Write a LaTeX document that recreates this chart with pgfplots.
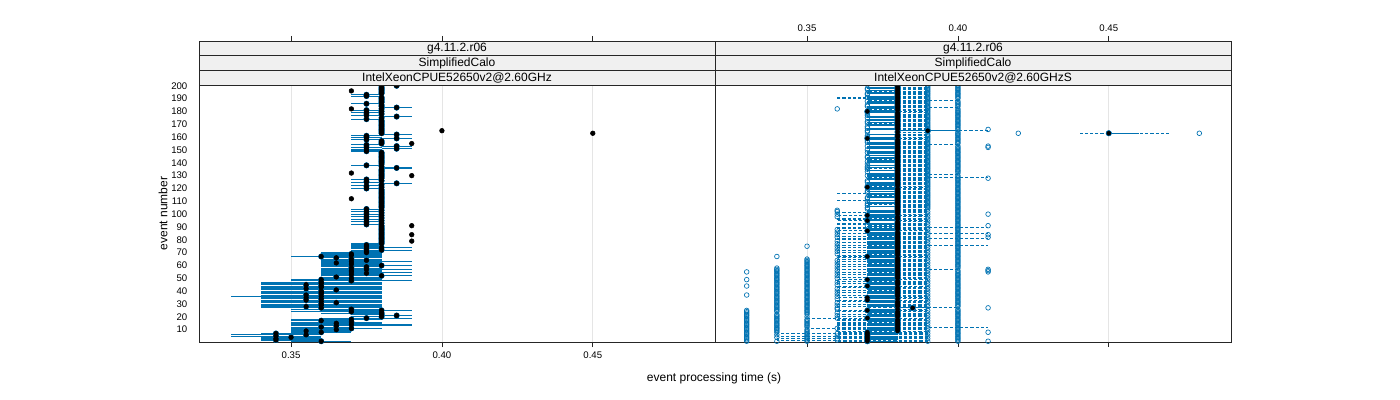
\documentclass[border=0pt]{standalone}
\usepackage{fontspec}
\setmainfont{Liberation Sans}
\usepackage{pgfplots}
\usepackage{pgfplotstable}
\pgfplotsset{compat=1.18}
\definecolor{c1}{HTML}{0072B2}
\definecolor{stripbg}{HTML}{F0F0F0}

% times in ms; e = event number
\pgfplotstableread{
e lo q1 md q3 hi
1 350 350 360 370 370
2 340 340 345 360 360
3 340 340 345 350 360
4 340 340 350 360 360
5 330 340 345 350 360
6 330 340 355 360 360
7 340 340 345 360 360
8 350 350 360 370 370
9 350 350 355 370 370
10 350 350 365 370 370
11 350 350 370 370 380
12 350 350 360 370 370
13 350 350 365 380 390
14 350 360 370 380 390
15 350 350 365 370 380
16 350 360 370 370 380
17 350 350 360 370 370
18 350 360 370 380 380
19 360 370 375 380 390
20 370 380 380 380 380
21 380 380 385 390 390
22 370 380 380 380 380
23 360 370 380 380 380
24 350 360 370 380 380
25 360 370 380 380 390
26 350 360 370 380 380
27 340 350 360 380 380
28 340 340 355 370 380
29 340 350 360 380 380
30 340 340 360 380 380
31 340 350 365 380 380
32 340 340 360 370 380
33 340 340 355 380 380
34 340 350 360 380 380
35 340 340 355 370 380
36 330 340 360 380 380
37 340 340 355 380 380
38 340 350 360 380 380
39 340 340 360 370 380
40 340 340 360 380 380
41 340 350 365 380 380
42 340 340 355 380 380
43 340 340 360 370 380
44 340 350 360 380 380
45 340 340 355 380 380
46 340 340 360 380 380
47 340 350 360 370 380
48 350 360 370 380 390
49 350 360 360 380 380
50 360 360 370 380 380
51 360 360 365 380 380
52 360 370 380 380 390
53 360 360 370 380 380
54 360 360 375 380 380
55 360 360 370 380 390
56 360 360 370 380 380
57 360 370 375 380 390
58 360 360 370 380 380
59 360 360 375 380 380
60 360 370 380 380 390
61 360 360 370 380 380
62 360 360 365 380 380
63 360 360 370 380 390
64 360 370 375 380 380
65 360 360 370 380 380
66 360 360 365 380 380
67 350 360 360 380 380
68 360 360 370 380 380
69 360 360 370 380 380
70 360 370 375 380 380
71 370 370 375 380 380
72 370 370 380 380 390
73 370 370 375 380 380
74 370 370 380 380 390
75 370 370 375 380 380
76 370 370 375 380 380
77 370 380 380 380 380
78 380 380 380 380 380
79 380 380 380 380 380
80 380 380 380 380 380
81 380 380 380 380 380
82 380 380 380 380 380
83 380 380 380 380 380
84 380 380 380 380 380
85 380 380 380 380 380
86 380 380 380 380 380
87 380 380 380 380 380
88 380 380 380 380 380
89 380 380 380 380 380
90 380 380 380 380 380
91 380 380 380 380 380
92 370 370 375 380 380
93 380 380 380 380 380
94 370 370 375 380 380
95 380 380 380 380 380
96 370 370 375 380 380
97 380 380 380 380 380
98 370 370 375 380 380
99 380 380 380 380 380
100 370 370 375 380 380
101 380 380 380 380 380
102 370 370 375 380 380
103 380 380 380 380 380
104 370 370 375 380 380
105 380 380 380 380 380
106 380 380 380 380 380
107 380 380 380 380 380
108 380 380 380 380 380
109 380 380 380 380 380
110 380 380 380 380 380
111 380 380 380 380 380
112 380 380 380 380 380
113 380 380 380 380 380
114 380 380 380 380 380
115 380 380 380 380 380
116 380 380 380 380 380
117 380 380 380 380 380
118 380 380 380 380 380
119 380 380 380 380 380
120 370 370 375 380 380
121 380 380 380 380 380
122 370 370 375 380 380
123 380 380 380 380 380
124 380 380 385 390 390
125 370 370 375 380 380
126 380 380 380 380 380
127 370 370 375 380 380
128 380 380 380 380 380
129 380 380 380 380 380
130 380 380 380 380 380
131 380 380 380 380 380
132 380 380 380 380 380
133 380 380 380 380 380
134 380 380 380 380 380
135 380 380 380 380 380
136 380 380 385 390 390
137 380 380 380 380 380
138 370 370 375 380 380
139 380 380 380 380 380
140 380 380 380 380 380
141 380 380 380 380 380
142 380 380 380 380 380
143 380 380 380 380 380
144 380 380 380 380 380
145 380 380 380 380 380
146 380 380 380 380 380
147 380 380 380 380 380
148 380 380 380 380 380
149 370 370 375 380 380
150 370 370 375 380 380
151 380 380 385 390 390
152 370 370 375 380 380
153 380 380 385 390 390
154 370 370 375 380 380
155 380 380 380 380 380
156 380 380 380 380 380
157 380 380 380 380 380
158 370 370 375 380 380
159 380 380 385 390 390
160 370 370 375 380 380
161 370 370 375 380 380
162 380 380 385 390 390
163 380 380 380 380 380
164 380 380 380 380 380
165 380 380 380 380 380
166 380 380 380 380 380
167 380 380 380 380 380
168 380 380 380 380 380
169 380 380 380 380 380
170 380 380 380 380 380
171 380 380 380 380 380
172 380 380 380 380 380
173 380 380 380 380 380
174 370 370 375 380 380
175 380 380 380 380 380
176 380 380 385 390 390
177 370 370 375 380 380
178 380 380 380 380 380
179 370 370 375 380 380
180 380 380 380 380 380
181 370 370 375 380 380
182 380 380 380 380 380
183 380 380 385 390 390
184 380 380 380 380 380
185 380 380 380 380 380
186 370 370 375 380 380
187 380 380 380 380 380
188 380 380 380 380 380
189 380 380 380 380 380
190 380 380 380 380 380
191 380 380 380 380 380
192 370 370 375 380 380
193 370 370 375 380 380
194 380 380 380 380 380
195 380 380 380 380 380
196 380 380 380 380 380
197 380 380 380 380 380
198 380 380 380 380 380
199 380 380 380 380 380
200 380 380 385 390 390
}\lefttab

% p..w: outlying runs (nan = none)
\pgfplotstableread{
e lo q1 md q3 hi p q r s t w
1 360 370 370 380 390 330 340 350 390 400 410
2 340 370 370 380 390 330 350 360 nan 400 nan
3 340 370 370 380 390 330 350 360 390 400 nan
4 360 370 370 380 390 330 340 350 nan 400 nan
5 340 370 370 380 390 330 350 360 390 400 nan
6 360 370 370 380 390 330 340 350 nan 400 nan
7 340 370 370 380 390 330 350 360 390 400 nan
8 360 370 370 380 390 330 340 350 nan 400 410
9 360 370 380 380 390 330 340 350 390 400 nan
10 360 370 380 380 390 330 340 350 nan 400 nan
11 350 370 380 380 390 330 340 360 390 400 nan
12 360 370 380 380 410 330 340 350 nan 400 nan
13 360 370 380 380 390 330 340 350 390 400 nan
14 360 370 380 380 390 330 340 350 nan 400 nan
15 360 370 380 380 390 330 340 350 390 400 nan
16 360 370 380 380 390 330 340 350 nan 400 nan
17 360 370 380 380 390 330 340 350 390 400 nan
18 360 370 380 380 390 330 340 350 nan 400 nan
19 350 370 370 380 390 330 340 360 390 400 nan
20 360 370 380 380 390 330 340 350 nan 400 nan
21 370 370 380 380 390 330 340 360 390 400 nan
22 360 370 380 380 390 330 340 350 nan 400 nan
23 370 370 380 380 390 330 350 360 390 400 nan
24 360 370 380 380 390 330 340 350 nan 400 nan
25 360 370 370 380 390 330 340 350 390 400 nan
26 370 370 380 380 390 340 350 360 nan 400 nan
27 370 380 385 390 400 340 350 360 nan 410 nan
28 360 370 380 380 390 340 350 nan 390 400 nan
29 370 370 380 380 390 340 350 360 nan 400 nan
30 360 370 380 380 390 340 350 nan 390 400 nan
31 370 370 380 380 390 340 350 360 nan 400 nan
32 360 370 380 380 390 340 350 nan 390 400 nan
33 360 370 370 380 390 340 350 nan nan 400 nan
34 370 370 380 380 390 340 350 360 390 400 nan
35 360 370 370 380 390 340 350 nan nan 400 nan
36 370 370 380 380 390 340 350 360 390 400 nan
37 360 370 380 380 390 330 340 350 nan 400 nan
38 370 370 380 380 390 340 350 360 390 400 nan
39 360 370 380 380 390 340 350 nan nan 400 nan
40 370 370 380 380 390 340 350 360 390 400 nan
41 360 370 380 380 390 340 350 nan nan 400 nan
42 370 370 380 380 390 340 350 360 390 400 nan
43 360 370 380 380 390 340 350 nan nan 400 nan
44 360 370 370 380 390 330 340 350 390 400 nan
45 370 370 380 380 390 340 350 360 nan 400 nan
46 360 370 380 380 390 340 350 nan 390 400 nan
47 370 370 380 380 390 340 350 360 nan 400 nan
48 360 370 380 380 390 340 350 nan 390 400 nan
49 360 370 370 380 390 330 340 350 nan 400 nan
50 370 370 380 380 390 340 350 360 390 400 nan
51 360 370 380 380 390 340 350 nan nan 400 nan
52 370 370 380 380 390 340 350 360 390 400 nan
53 360 370 380 380 390 340 350 nan nan 400 nan
54 370 370 380 380 390 340 350 360 390 400 nan
55 360 370 380 380 390 330 340 350 nan 400 410
56 370 370 380 380 390 340 350 360 390 400 410
57 360 370 380 380 400 340 350 nan nan 410 nan
58 370 370 380 380 390 340 350 360 390 400 nan
59 360 370 380 380 390 350 nan nan nan 400 nan
60 370 370 380 380 390 350 360 nan 390 400 nan
61 360 370 380 380 390 350 nan nan nan 400 nan
62 370 370 380 380 390 350 360 nan 390 400 nan
63 360 370 380 380 390 350 nan nan nan 400 nan
64 370 370 380 380 390 350 360 nan 390 400 nan
65 360 370 380 380 390 350 nan nan nan 400 nan
66 360 370 380 380 390 nan nan nan 390 400 nan
67 360 370 370 380 390 340 nan nan nan 400 nan
68 360 370 380 380 390 nan nan nan 390 400 nan
69 370 370 380 380 390 360 nan nan nan 400 nan
70 360 370 380 380 390 nan nan nan 390 400 nan
71 370 370 380 380 390 360 nan nan nan 400 nan
72 360 370 380 380 390 nan nan nan 390 400 nan
73 370 370 380 380 390 360 nan nan nan 400 nan
74 360 370 380 380 390 nan nan nan 390 400 nan
75 370 370 380 380 390 350 360 nan nan 400 nan
76 360 370 380 380 410 nan nan nan 390 400 nan
77 370 370 380 380 390 360 nan nan nan 400 nan
78 360 370 380 380 390 nan nan nan 390 400 nan
79 370 370 380 380 390 360 nan nan nan 400 nan
80 360 370 380 380 390 nan nan nan 390 400 nan
81 360 370 380 380 410 nan nan nan nan 400 nan
82 370 370 380 380 390 360 nan nan 390 400 410
83 360 370 380 380 390 nan nan nan nan 400 nan
84 370 370 380 380 390 360 nan nan 390 400 410
85 360 370 380 380 410 nan nan nan nan 400 nan
86 370 370 380 380 390 360 nan nan 390 400 nan
87 360 370 370 380 390 nan nan nan nan 400 nan
88 370 370 380 380 390 360 nan nan 390 400 nan
89 360 370 380 380 390 nan nan nan nan 400 nan
90 360 370 380 380 410 nan nan nan 390 400 nan
91 370 380 380 380 390 370 nan nan nan 400 410
92 360 370 380 380 390 nan nan nan 390 400 nan
93 360 370 380 380 390 nan nan nan nan 400 nan
94 380 380 380 380 390 370 nan nan 390 400 nan
95 360 370 370 380 390 nan nan nan nan 400 nan
96 360 370 380 380 390 nan nan nan 390 400 nan
97 360 370 380 380 390 nan nan nan nan 400 nan
98 370 370 380 380 390 360 nan nan 390 400 nan
99 360 370 370 380 390 nan nan nan nan 400 nan
100 370 370 380 380 390 360 nan nan 390 400 410
101 360 370 380 380 390 nan nan nan nan 400 nan
102 370 370 380 380 390 360 nan nan 390 400 nan
103 370 370 380 380 390 360 nan nan nan 400 nan
104 380 380 380 380 390 370 nan nan 390 400 nan
105 380 380 380 380 390 370 nan nan 390 400 nan
106 370 370 380 380 390 nan nan nan 390 400 nan
107 380 380 380 380 390 370 nan nan 390 400 nan
108 370 370 380 380 390 370 nan nan 390 400 nan
109 370 370 380 380 390 nan nan nan 390 400 nan
110 380 380 380 380 390 370 nan nan 390 400 nan
111 360 370 380 380 390 nan nan nan 390 400 nan
112 380 380 380 380 390 370 nan nan 390 400 nan
113 370 370 380 380 390 370 nan nan 390 400 nan
114 370 370 380 380 390 nan nan nan 390 400 nan
115 370 370 380 380 390 nan nan nan 390 400 nan
116 360 370 380 380 390 nan nan nan 390 400 nan
117 380 380 380 380 390 370 nan nan 390 400 nan
118 370 370 380 380 390 370 nan nan 390 400 nan
119 370 370 380 380 390 nan nan nan 390 400 nan
120 370 370 380 380 390 nan nan nan 390 400 nan
121 370 370 370 380 390 nan nan nan 390 400 nan
122 370 370 380 380 390 370 nan nan 390 400 nan
123 370 370 380 380 390 nan nan nan 390 400 nan
124 370 370 380 380 390 nan nan nan 390 400 nan
125 370 370 380 380 390 370 nan nan 390 400 nan
126 380 380 380 380 390 370 nan nan 390 400 nan
127 370 370 380 380 390 nan nan nan 390 400 nan
128 370 370 380 380 390 nan nan nan 390 400 410
129 370 370 380 380 410 nan nan nan 390 400 nan
130 370 370 380 380 390 370 nan nan 390 400 nan
131 370 370 380 380 400 nan nan nan 390 nan nan
132 370 370 380 380 390 nan nan nan 390 400 nan
133 380 380 380 380 390 370 nan nan 390 400 nan
134 370 370 380 380 390 nan nan nan 390 400 nan
135 380 380 380 380 390 370 nan nan 390 400 nan
136 370 370 380 380 390 370 nan nan 390 400 nan
137 380 380 380 380 390 370 nan nan 390 400 nan
138 370 370 380 380 390 nan nan nan 390 400 nan
139 380 380 380 380 390 370 nan nan 390 400 nan
140 370 370 380 380 390 nan nan nan 390 400 nan
141 370 370 380 380 390 370 nan nan 390 400 nan
142 370 370 380 380 390 nan nan nan 390 400 nan
143 370 370 380 380 390 nan nan nan 390 400 nan
144 370 370 380 380 390 370 nan nan 390 400 nan
145 380 380 380 380 390 370 nan nan 390 400 nan
146 370 370 380 380 390 nan nan nan 390 400 nan
147 370 370 380 380 390 nan nan nan 390 400 nan
148 370 370 380 380 390 370 nan nan 390 400 nan
149 370 370 380 380 390 nan nan nan 390 400 nan
150 380 380 380 380 390 370 nan nan 390 400 nan
151 370 370 380 380 390 nan nan nan 390 400 nan
152 370 370 380 380 390 nan nan nan 390 400 410
153 370 370 380 380 390 370 nan nan 390 400 410
154 370 370 380 380 400 nan nan nan 390 nan nan
155 370 370 380 380 390 nan nan nan 390 400 nan
156 370 370 380 380 390 370 nan nan 390 400 nan
157 380 380 380 380 390 370 nan nan 390 400 nan
158 370 370 380 380 390 nan nan nan 390 400 nan
159 370 370 370 380 390 nan nan nan 390 400 nan
160 370 370 380 380 390 370 nan nan 390 400 nan
161 380 380 380 380 390 370 nan nan 390 400 nan
162 370 370 380 380 390 nan nan nan 390 400 nan
163 440 450 450 460 470 420 nan nan nan 400 480
164 380 380 380 380 390 370 nan nan 390 400 nan
165 380 380 390 400 410 370 nan nan nan nan nan
166 370 370 380 380 390 nan nan nan 390 400 410
167 370 370 380 380 390 370 nan nan 390 400 nan
168 380 380 380 380 390 370 nan nan 390 400 nan
169 370 370 380 380 390 nan nan nan 390 400 nan
170 370 370 380 380 390 nan nan nan 390 400 nan
171 370 370 380 380 390 370 nan nan 390 400 nan
172 380 380 380 380 390 370 nan nan 390 400 nan
173 370 370 380 380 390 nan nan nan 390 400 nan
174 370 370 380 380 390 nan nan nan 390 400 nan
175 370 370 380 380 390 370 nan nan 390 400 nan
176 370 370 380 380 390 nan nan nan 390 400 nan
177 380 380 380 380 390 370 nan nan 390 400 nan
178 380 380 380 380 390 370 nan nan 390 400 nan
179 370 370 380 380 390 370 nan nan 390 400 nan
180 370 370 370 380 390 nan nan nan 390 400 nan
181 370 370 380 380 390 nan nan nan 390 400 nan
182 370 370 380 380 390 360 nan nan 390 400 nan
183 370 370 380 380 400 nan nan nan 390 nan nan
184 370 370 380 380 390 370 nan nan 390 400 nan
185 380 380 380 380 390 370 nan nan 390 400 nan
186 370 370 380 380 390 nan nan nan 390 400 nan
187 370 370 380 380 390 nan nan nan 390 400 nan
188 370 370 380 380 390 370 nan nan 390 400 nan
189 370 370 380 380 400 nan nan nan 390 nan nan
190 360 370 380 380 390 nan nan nan 390 400 nan
191 360 370 380 380 390 370 nan nan 390 400 nan
192 370 370 380 380 390 nan nan nan 390 400 nan
193 380 380 380 380 390 370 nan nan 390 400 nan
194 370 370 380 380 390 370 nan nan 390 400 nan
195 370 370 380 380 390 nan nan nan 390 400 nan
196 370 370 380 380 390 nan nan nan 390 400 nan
197 380 380 380 380 390 370 nan nan 390 400 nan
198 370 370 380 380 390 370 nan nan 390 400 nan
199 370 370 380 380 390 nan nan nan 390 400 nan
200 370 370 380 380 390 nan nan nan 390 400 nan
}\righttab

\pgfplotsset{
  panel/.style={
    scale only axis, width=387pt, height=192.75pt,
    xmin=319.5, xmax=490.5, ymin=0.4, ymax=200.6,
    xtick={350,400,450}, xticklabels={0.35,0.40,0.45},
    xtick pos=bottom, tick align=outside, major tick length=3.75pt,
    xmajorgrids, major grid style={black!10, line width=0.6pt},
    axis line style={black!85, line width=0.6pt},
    tick style={black!85, line width=0.6pt},
    ticklabel style={font=\fontsize{7.2}{8}\selectfont},
    /pgf/number format/assume math mode=true,
  },
  strip/.style={
    scale only axis, width=387pt, height=33pt,
    xmin=319.5, xmax=490.5, ymin=0, ymax=3,
    xtick={350,400,450}, ytick=\empty,
    xtick pos=top, tick align=outside, major tick length=3.75pt,
    axis line style={black!85, line width=0.6pt},
    tick style={black!85, line width=0.6pt},
    ticklabel style={font=\fontsize{7.2}{8}\selectfont},
  },
  ebar/.style={only marks, mark=none, forget plot, c1,
    error bars/x dir=both, error bars/x explicit, error bars/error mark=none},
}
\tikzset{strpbox/.style={fill=stripbg, draw=black!85, line width=0.6pt}}

\begin{document}
\begin{tikzpicture}[font=\fontsize{9}{10.8}\selectfont]
\useasboundingbox (0,0) rectangle (1050pt,300pt);

% left panel
\begin{axis}[panel, at={(149.25pt,43.5pt)}, anchor=south west,
  ytick={10,20,...,200}, ytick pos=left, ytick style={draw=none},
  yticklabel style={xshift=-1.5pt}]
\addplot[ebar, error bars/error bar style={draw=c1, line width=0.6pt}]
  table[x=md, y=e, x error plus expr=\thisrow{hi}-\thisrow{md},
        x error minus expr=\thisrow{md}-\thisrow{lo}] {\lefttab};
\addplot[ebar, error bars/error bar style={draw=c1, line width=0.75pt}]
  table[x=md, y=e, x error plus expr=\thisrow{q3}-\thisrow{md},
        x error minus expr=\thisrow{md}-\thisrow{q1}] {\lefttab};
\addplot[only marks, mark=*, mark size=1.75pt, black] table[x=md, y=e] {\lefttab};
\addplot[only marks, mark=*, mark size=1.75pt, black] coordinates {
  (370,112) (390,79) (390,84) (390,91) (390,130) (370,132)
  (390,155) (400,165) (450,163) (370,182) (370,196)};
\end{axis}

% right panel
\begin{axis}[panel, at={(536.25pt,43.5pt)}, anchor=south west,
  ytick=\empty, xticklabels={}]
\addplot[ebar, error bars/error bar style={draw=c1, line width=0.55pt, dash pattern=on 2.4pt off 1.5pt}]
  table[x=md, y=e, x error plus expr=\thisrow{hi}-\thisrow{md},
        x error minus expr=\thisrow{md}-\thisrow{lo}] {\righttab};
\addplot[ebar, error bars/error bar style={draw=c1, line width=0.75pt}]
  table[x=md, y=e, x error plus expr=\thisrow{q3}-\thisrow{md},
        x error minus expr=\thisrow{md}-\thisrow{q1}] {\righttab};
\foreach \c in {p,q,r,s,t,w} {
  \addplot[only marks, mark=o, mark size=1.75pt, c1, mark options={line width=0.5pt}]
    table[x=\c, y=e] {\righttab};
}
\addplot[only marks, mark=*, mark size=1.5pt, black] table[x=md, y=e] {\righttab};
\end{axis}

% strips
\begin{axis}[strip, at={(149.25pt,236.25pt)}, anchor=south west, xticklabels={}]
\draw[strpbox] (rel axis cs:0,0) rectangle (rel axis cs:1,0.3333);
\draw[strpbox] (rel axis cs:0,0.3333) rectangle (rel axis cs:1,0.6667);
\draw[strpbox] (rel axis cs:0,0.6667) rectangle (rel axis cs:1,1);
\node at (rel axis cs:0.5,0.8333) {g4.11.2.r06};
\node at (rel axis cs:0.5,0.5) {SimplifiedCalo};
\node at (rel axis cs:0.5,0.1667) {IntelXeonCPUE52650v2@2.60GHz};
\end{axis}
\begin{axis}[strip, at={(536.25pt,236.25pt)}, anchor=south west,
  xticklabels={0.35,0.40,0.45}, xticklabel pos=top]
\draw[strpbox] (rel axis cs:0,0) rectangle (rel axis cs:1,0.3333);
\draw[strpbox] (rel axis cs:0,0.3333) rectangle (rel axis cs:1,0.6667);
\draw[strpbox] (rel axis cs:0,0.6667) rectangle (rel axis cs:1,1);
\node at (rel axis cs:0.5,0.8333) {g4.11.2.r06};
\node at (rel axis cs:0.5,0.5) {SimplifiedCalo};
\node at (rel axis cs:0.5,0.1667) {IntelXeonCPUE52650v2@2.60GHzS};
\end{axis}

\node[rotate=90] at (122.25pt,140pt) {event number};
\node at (535.5pt,16.5pt) {event processing time (s)};
\end{tikzpicture}
\end{document}
